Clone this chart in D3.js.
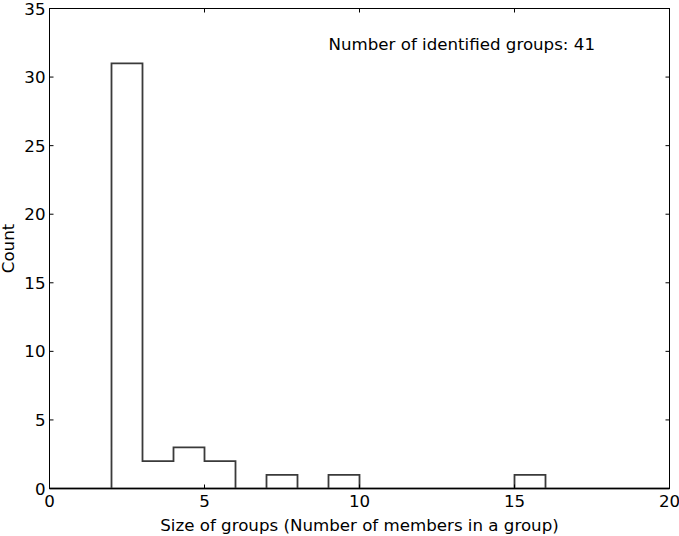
<!DOCTYPE html>
<html><head><meta charset="utf-8">
<script src="https://cdn.jsdelivr.net/npm/d3@7"></script>
<style>body{margin:0;background:#fff}svg{display:block}text{font-family:"DejaVu Sans",sans-serif}</style>
</head><body>
<svg id="c" width="679" height="536"></svg>
<script>
const binEdges = [0,1,2,3,4,5,6,7,8,9,10,11,12,13,14,15,16,17,18,19,20];
const counts = [0,0,31,2,3,2,0,1,0,1,0,0,0,0,0,1,0,0,0,0];
const xTicks = [0,5,10,15,20];
const yTicks = [0,5,10,15,20,25,30,35];
const annotation = "Number of identified groups: 41";
const xLabel = "Size of groups (Number of members in a group)";
const yLabel = "Count";

const svg = d3.select("#c");
const L = 49.5, R = 669.5, T = 8.5, B = 488.5;
const x = d3.scaleLinear().domain([0,20]).range([L,R]);
const y = d3.scaleLinear().domain([0,35]).range([B,T]);
const fs = 16.67;

// histogram step outline
const pts = [];
pts.push([binEdges[0], 0]);
counts.forEach((c,i)=>{ pts.push([binEdges[i], c]); pts.push([binEdges[i+1], c]); });
pts.push([binEdges[binEdges.length-1], 0]);
svg.append("path")
  .attr("d", d3.line().x(d=>x(d[0])).y(d=>y(d[1]))(pts) + "Z")
  .attr("fill","none").attr("stroke","#3a3a3a").attr("stroke-width",1.8);

// frame
svg.append("rect").attr("x",L).attr("y",T).attr("width",R-L).attr("height",B-T)
  .attr("fill","none").attr("stroke","#000").attr("stroke-width",1);

// ticks inward all sides
const tl = 4;
const g = svg.append("g").attr("stroke","#000").attr("stroke-width",1);
xTicks.forEach(v=>{
  g.append("line").attr("x1",x(v)).attr("x2",x(v)).attr("y1",B).attr("y2",B-tl);
  g.append("line").attr("x1",x(v)).attr("x2",x(v)).attr("y1",T).attr("y2",T+tl);
});
yTicks.forEach(v=>{
  g.append("line").attr("y1",y(v)).attr("y2",y(v)).attr("x1",L).attr("x2",L+tl);
  g.append("line").attr("y1",y(v)).attr("y2",y(v)).attr("x1",R).attr("x2",R-tl);
});

// tick labels
xTicks.forEach(v=>{
  svg.append("text").attr("x",x(v)).attr("y",B+18).attr("text-anchor","middle")
    .attr("font-size",fs).text(d3.format("d")(v));
});
yTicks.forEach(v=>{
  svg.append("text").attr("x",L-4).attr("y",y(v)+6).attr("text-anchor","end")
    .attr("font-size",fs).text(d3.format("d")(v));
});

// labels
svg.append("text").attr("x",(L+R)/2).attr("y",531).attr("text-anchor","middle")
  .attr("font-size",fs).text(xLabel);
svg.append("text").attr("transform",`translate(14,${(T+B)/2}) rotate(-90)`)
  .attr("text-anchor","middle").attr("font-size",fs).text(yLabel);

// annotation
svg.append("text").attr("x",x(9)).attr("y",y(32)).attr("font-size",fs).text(annotation);
</script>
</body></html>
